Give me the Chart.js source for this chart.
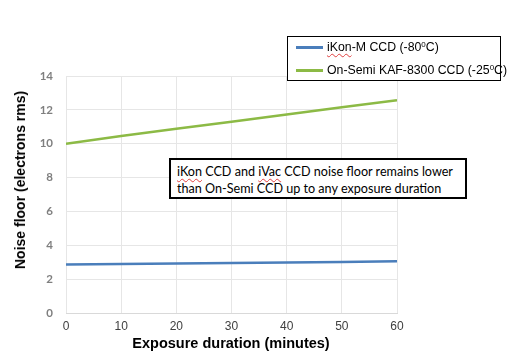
<!DOCTYPE html>
<html>
<head>
<meta charset="utf-8">
<script src="https://cdn.jsdelivr.net/npm/chart.js@4/dist/chart.umd.min.js"></script>
<style>
  html, body { margin: 0; padding: 0; background: #fff; }
  #wrap { position: relative; width: 520px; height: 357px; overflow: hidden; }
  canvas { position: absolute; left: 0; top: 0; }
  .lbl { position: absolute; white-space: nowrap; font-family: "Liberation Sans", Arial, sans-serif; }
  #ytitle { left: 20px; top: 180px; transform: translate(-50%, -50%) rotate(-90deg); font-weight: bold; font-size: 14px; color: #000; }
  #xtitle { left: 231px; top: 343px; transform: translate(-50%, -50%); font-weight: bold; font-size: 14.5px; color: #000; }
  #legend { position: absolute; left: 287px; top: 36px; width: 214px; height: 45px; border: 1.5px solid #000; background: #fff; font-family: "Liberation Sans", Arial, sans-serif; font-size: 12.3px; color: #000; box-sizing: border-box; }
  .row { position: absolute; left: 8px; display: flex; align-items: center; white-space: nowrap; }
  .sw { width: 27px; height: 3px; margin-right: 4px; }
  sup { font-size: 8px; vertical-align: 4px; line-height: 0; }
  .squig { text-decoration: underline wavy #e04040; text-decoration-thickness: 1px; text-underline-offset: 2px; }
  #note { position: absolute; left: 169px; top: 158px; border: 2px solid #000; background: #fff; font-family: "Lato", "Open Sans", sans-serif; font-size: 12.6px; line-height: 17px; color: #000; padding: 3px 0 0 6px; box-sizing: border-box; width: 298px; height: 41px; white-space: nowrap; }
</style>
</head>
<body>
<div id="wrap">
  <canvas id="c" width="520" height="357"></canvas>
  <div class="lbl" id="ytitle">Noise floor (electrons rms)</div>
  <div class="lbl" id="xtitle">Exposure duration (minutes)</div>
  <div id="legend">
    <div class="row" style="top:3px;"><div class="sw" style="background:#4a7ebb"></div><span><span class="squig">iKon</span>-M CCD (-80<sup>0</sup>C)</span></div>
    <div class="row" style="top:26px;"><div class="sw" style="background:#8cba45"></div><span>On-Semi KAF-8300 CCD (-25<sup>0</sup>C)</span></div>
  </div>
  <div id="note"><span class="squig">iKon</span> CCD and <span class="squig">iVac</span> CCD noise floor remains lower<br>than On-Semi CCD up to any exposure duration</div>
</div>
<script>
const exposure = [0, 10, 20, 30, 40, 50, 60];
const ikonM = [2.87, 2.9, 2.93, 2.96, 2.99, 3.02, 3.05];
const onSemi = [10.0, 10.45, 10.88, 11.3, 11.73, 12.15, 12.57];
const seriesNames = ["iKon-M CCD (-80⁰C)", "On-Semi KAF-8300 CCD (-25⁰C)"];
const yTicks = [0, 2, 4, 6, 8, 10, 12, 14];
const xTicks = [0, 10, 20, 30, 40, 50, 60];

const toPts = (arr) => exposure.map((x, i) => ({ x: x, y: arr[i] }));

new Chart(document.getElementById('c'), {
  type: 'line',
  data: {
    datasets: [
      { label: seriesNames[0], data: toPts(ikonM), borderColor: '#4a7ebb', borderWidth: 2.5, pointRadius: 0, tension: 0 },
      { label: seriesNames[1], data: toPts(onSemi), borderColor: '#8cba45', borderWidth: 2.5, pointRadius: 0, tension: 0 }
    ]
  },
  options: {
    responsive: false,
    animation: false,
    devicePixelRatio: 1,
    layout: { padding: { left: 0, right: 123, top: 76, bottom: 0 } },
    plugins: { legend: { display: false }, tooltip: { enabled: false } },
    scales: {
      x: {
        type: 'linear', min: 0, max: 60,
        afterBuildTicks: (s) => { s.ticks = xTicks.map(v => ({ value: v })); },
        ticks: { color: '#404040', font: { family: 'Liberation Sans', size: 12 }, padding: 6 },
        grid: { color: '#e6e6e6', lineWidth: 1, drawTicks: false },
        border: { color: '#d9d9d9' },
        afterFit: (s) => { s.height = 357 - 313; }
      },
      y: {
        min: 0, max: 14,
        afterBuildTicks: (s) => { s.ticks = yTicks.map(v => ({ value: v })); },
        ticks: { color: '#7f7f7f', font: { family: 'Lato', size: 11.5, weight: 'bold' }, padding: 13 },
        grid: { color: '#e6e6e6', lineWidth: 1, drawTicks: false },
        border: { display: false },
        afterFit: (s) => { s.width = 66; }
      }
    }
  }
});
</script>
</body>
</html>
